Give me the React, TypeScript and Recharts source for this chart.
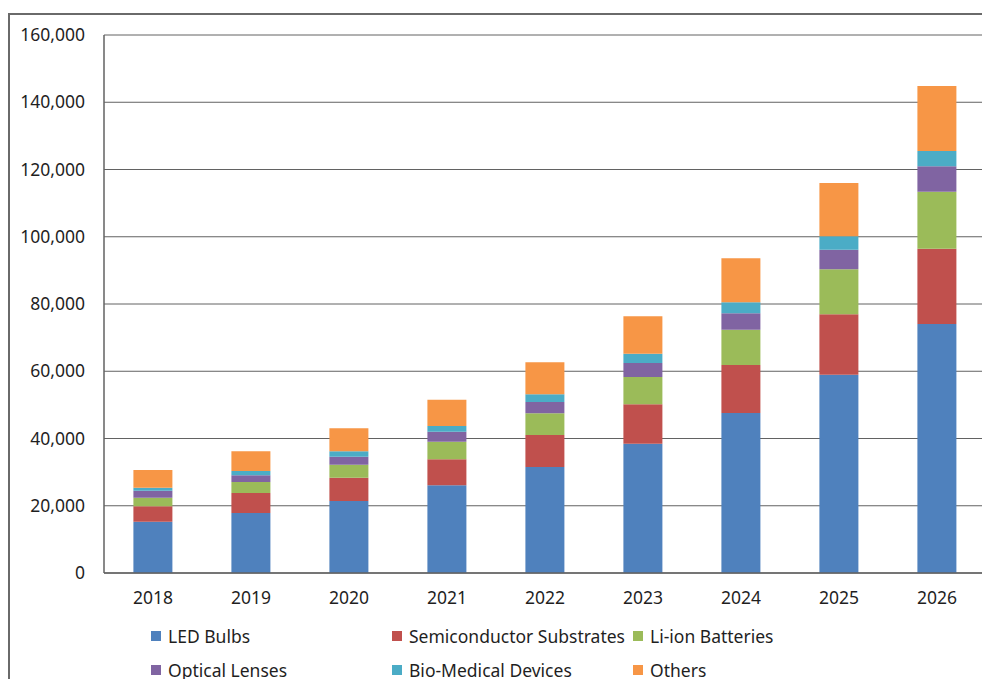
import { BarChart, Bar, XAxis, YAxis, CartesianGrid, Legend } from "recharts";

const years = ["2018", "2019", "2020", "2021", "2022", "2023", "2024", "2025", "2026"];

const ledBulbs = [15260, 17840, 21410, 26080, 31520, 38450, 47580, 58980, 74050];
const semiSubstrates = [4570, 5950, 6940, 7780, 9520, 11720, 14280, 17960, 22400];
const liIonBatteries = [2570, 3270, 3870, 5200, 6450, 8120, 10500, 13380, 16950];
const opticalLenses = [2080, 1990, 2380, 2950, 3370, 4160, 4870, 5840, 7550];
const bioMedical = [890, 1280, 1590, 1720, 2280, 2770, 3270, 3980, 4550];
const others = [5260, 5860, 6840, 7800, 9520, 11120, 13090, 15850, 19330];

const yTicks = [0, 20000, 40000, 60000, 80000, 100000, 120000, 140000, 160000];

const series = [
  { key: "led", name: "LED Bulbs", color: "#4F81BD", values: ledBulbs },
  { key: "semi", name: "Semiconductor Substrates", color: "#C0504D", values: semiSubstrates },
  { key: "li", name: "Li-ion Batteries", color: "#9BBB59", values: liIonBatteries },
  { key: "optical", name: "Optical Lenses", color: "#8064A2", values: opticalLenses },
  { key: "bio", name: "Bio-Medical Devices", color: "#4BACC6", values: bioMedical },
  { key: "others", name: "Others", color: "#F79646", values: others },
];

const data = years.map((year, i) => {
  const row: Record<string, string | number> = { year };
  series.forEach((s) => {
    row[s.key] = s.values[i];
  });
  return row;
});

const font = "'Noto Sans', 'Open Sans', sans-serif";
const textColor = "#1f1f1f";
const gridColor = "#626262";

function ChartLegend() {
  return (
    <div
      style={{
        height: 68,
        paddingLeft: 143,
        display: "grid",
        gridTemplateColumns: "241px 241px 241px",
        gridAutoRows: "34px",
        fontFamily: font,
        fontSize: 17.5,
        color: textColor,
      }}
    >
      {series.map((s) => (
        <div key={s.key} style={{ display: "flex", alignItems: "center", whiteSpace: "nowrap" }}>
          <span style={{ width: 10, height: 10, background: s.color, marginRight: 7, flex: "none" }} />
          <span>{s.name}</span>
        </div>
      ))}
    </div>
  );
}

export default function App() {
  return (
    <div style={{ position: "relative", width: 982, height: 671 }}>
      <div
        style={{
          position: "absolute",
          left: 0,
          top: 5,
          width: 990,
          height: 700,
          borderLeft: "2px solid #6a6a6a",
          borderTop: "2px solid #6a6a6a",
          boxSizing: "border-box",
        }}
      />
      <div style={{ position: "absolute", left: 0, top: 0 }}>
        <BarChart
          width={982}
          height={671}
          data={data}
          margin={{ top: 27, right: 4, left: 0, bottom: 8 }}
          barCategoryGap="30%"
        >
          <CartesianGrid vertical={false} stroke={gridColor} strokeWidth={1} yAxisId="left" />
          <XAxis
            dataKey="year"
            height={30}
            tickLine={false}
            tickSize={0}
            tickMargin={19}
            stroke={gridColor}
            strokeWidth={1.5}
            tick={{ fill: textColor, fontSize: 17.5, fontFamily: font }}
          />
          <YAxis
            yAxisId="left"
            width={96}
            domain={[0, 160000]}
            ticks={yTicks}
            interval={0}
            tickLine={false}
            tickSize={0}
            tickMargin={19}
            stroke={gridColor}
            strokeWidth={1.5}
            tickFormatter={(v) => Number(v).toLocaleString("en-US")}
            tick={{ fill: textColor, fontSize: 17.5, fontFamily: font }}
          />
          <YAxis
            yAxisId="right"
            orientation="right"
            width={0}
            domain={[0, 160000]}
            tick={false}
            tickLine={false}
            stroke={gridColor}
            strokeWidth={1.5}
          />
          <Legend
            verticalAlign="bottom"
            content={() => <ChartLegend />}
            wrapperStyle={{ top: 611, left: 0, width: 982, height: 68 }}
          />
          {series.map((s) => (
            <Bar
              key={s.key}
              yAxisId="left"
              dataKey={s.key}
              name={s.name}
              stackId="total"
              fill={s.color}
              isAnimationActive={false}
            />
          ))}
        </BarChart>
      </div>
    </div>
  );
}
